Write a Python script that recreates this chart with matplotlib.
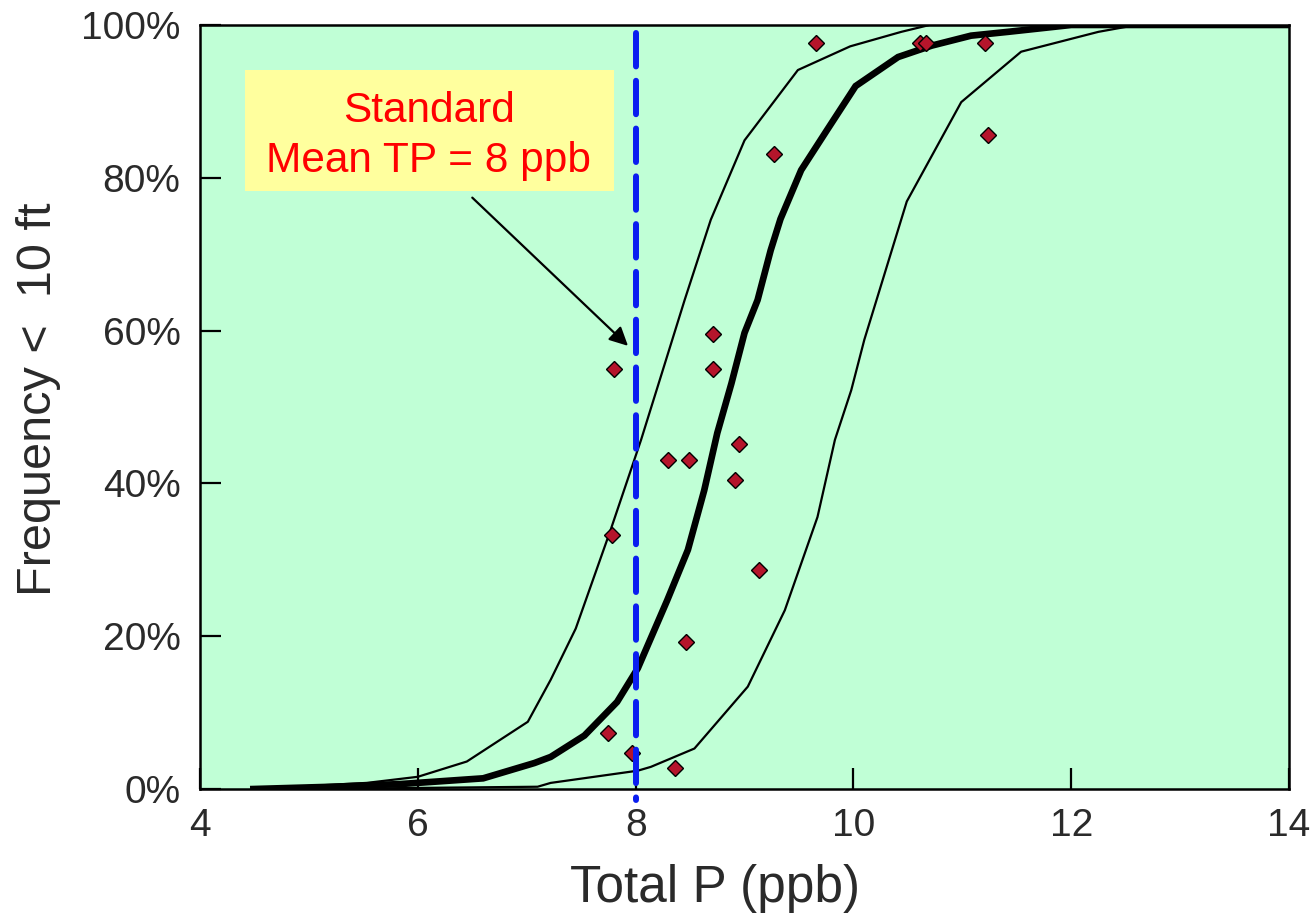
import matplotlib
matplotlib.use("Agg")
import matplotlib.pyplot as plt
from matplotlib.patches import Rectangle

plt.rcParams['font.family'] = ['Liberation Sans', 'DejaVu Sans']

# ---- data ----
mid_x = [4.49, 5.22, 5.84, 6.60, 7.07, 7.22, 7.53, 7.83, 8.02, 8.29, 8.48, 8.63, 8.75,
         8.88, 9.00, 9.12, 9.24, 9.33, 9.52, 9.76, 10.02, 10.41, 10.72, 11.08, 11.42, 12.0, 14.0]
mid_y = [0.0, 0.3, 0.65, 1.4, 3.4, 4.2, 7.0, 11.4, 15.8, 24.7, 31.3, 39.1, 46.6,
         53.1, 59.7, 64.0, 70.5, 74.6, 81.0, 86.3, 92.0, 95.8, 97.3, 98.6, 99.1, 100.0, 100.0]

low_x = [4.6, 5.53, 6.0, 6.45, 7.01, 7.22, 7.45, 7.77, 8.05, 8.26, 8.45, 8.69, 9.0,
         9.49, 9.97, 10.44, 10.7, 14.0]
low_y = [0.1, 0.8, 1.6, 3.6, 8.8, 14.3, 21.0, 33.9, 45.7, 55.3, 64.0, 74.5, 84.9,
         94.1, 97.2, 99.1, 100.0, 100.0]

high_x = [5.0, 7.10, 7.22, 8.02, 8.14, 8.54, 9.03, 9.37, 9.67, 9.83, 9.98, 10.10, 10.49,
          10.99, 11.54, 12.25, 12.6, 14.0]
high_y = [0.0, 0.3, 0.8, 2.4, 2.9, 5.3, 13.4, 23.4, 35.6, 45.7, 52.2, 58.8, 76.9,
          89.9, 96.5, 99.1, 100.0, 100.0]

obs_x = [7.80, 8.71, 8.71, 8.95, 8.30, 8.49, 8.91, 7.78, 9.13, 8.46, 7.75, 7.97, 8.36,
         9.66, 9.27, 10.61, 10.67, 11.21, 11.24]
obs_y = [55.0, 59.6, 55.0, 45.2, 43.1, 43.1, 40.4, 33.2, 28.7, 19.3, 7.3, 4.7, 2.7,
         97.6, 83.1, 97.6, 97.6, 97.6, 85.6]

standard_tp = 8
x_ticks = [4, 6, 8, 10, 12, 14]
y_ticks = [0, 20, 40, 60, 80, 100]
y_tick_labels = ['0%', '20%', '40%', '60%', '80%', '100%']

# ---- figure ----
fig = plt.figure(figsize=(13.16, 9.21), dpi=100)
ax = fig.add_axes([0.152, 0.1433, 0.8275, 0.8296])
ax.set_facecolor('#C0FFD6')

ax.plot(low_x, low_y, color='black', lw=1.6, zorder=3)
ax.plot(high_x, high_y, color='black', lw=1.6, zorder=3)
ax.plot(mid_x, mid_y, color='black', lw=4.8, zorder=3, solid_joinstyle='miter')

ax.plot(obs_x, obs_y, linestyle='none', marker='D', markersize=8,
        markerfacecolor='#B5152B', markeredgecolor='black', markeredgewidth=1.0, zorder=4)

ax.plot([standard_tp, standard_tp], [98.9, -1.5], color='#0A1EF0', lw=4.3,
        dashes=(5.6, 2.4), zorder=5, clip_on=False, dash_capstyle='round')

# annotation box
ax.add_patch(Rectangle((4.41, 78.3), 3.39, 15.8, facecolor='#FFFF9E', edgecolor='none', zorder=6))
ax.text(6.10, 87.3, 'Standard', color='#FF0000', fontsize=30.5, ha='center', va='baseline', zorder=7)
ax.text(6.10, 80.8, 'Mean TP = 8 ppb', color='#FF0000', fontsize=30.5, ha='center', va='baseline', zorder=7)
ax.annotate('', xy=(7.93, 58.0), xytext=(6.50, 77.4),
            arrowprops=dict(arrowstyle='-|>', color='black', lw=1.6,
                            mutation_scale=28, shrinkA=0, shrinkB=0), zorder=7)

ax.set_xlim(4, 14)
ax.set_ylim(0, 100)
ax.set_xticks(x_ticks)
ax.set_yticks(y_ticks)
ax.set_yticklabels(y_tick_labels)
ax.tick_params(direction='in', length=15, width=1.6, labelsize=28, colors='black',
               labelcolor='#2a2a2a', pad=14)
for s in ax.spines.values():
    s.set_linewidth(1.8)
    s.set_color('black')

ax.set_xlabel('Total P (ppb)', fontsize=37, color='#2a2a2a')
ax.xaxis.set_label_coords(0.473, -0.098)
ax.set_ylabel('Frequency <  10 ft', fontsize=35, color='#2a2a2a')
ax.yaxis.set_label_coords(-0.128, 0.51)

fig.savefig('out.png', dpi=100, facecolor='white')
